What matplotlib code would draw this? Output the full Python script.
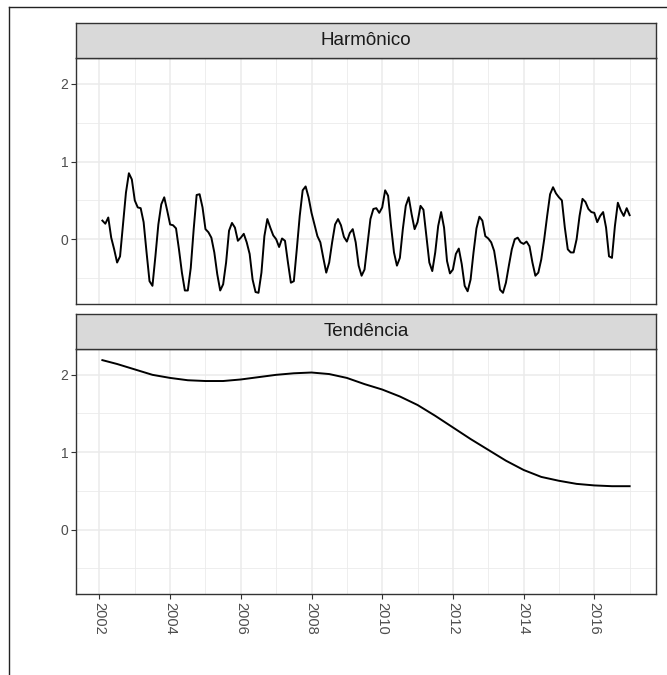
import numpy as np
import matplotlib
matplotlib.use("Agg")
import matplotlib.pyplot as plt
from matplotlib.lines import Line2D

plt.rcParams['font.family'] = ['Liberation Sans', 'DejaVu Sans']

# monthly series, Feb 2002 .. Jan 2017
harm_start = 2002 + 1 / 12
harmonico = [
    0.24, 0.20, 0.28, 0.02, -0.13, -0.30, -0.22, 0.19, 0.60, 0.85, 0.77,
    0.50, 0.41, 0.40, 0.22, -0.17, -0.54, -0.60, -0.22, 0.19, 0.45, 0.54, 0.37,
    0.19, 0.18, 0.14, -0.13, -0.43, -0.66, -0.66, -0.37, 0.13, 0.57, 0.58, 0.41,
    0.13, 0.09, 0.02, -0.17, -0.45, -0.66, -0.58, -0.30, 0.11, 0.21, 0.15, -0.02,
    0.02, 0.07, -0.04, -0.19, -0.52, -0.68, -0.69, -0.43, 0.04, 0.26, 0.15, 0.05,
    0.00, -0.10, 0.01, -0.02, -0.30, -0.56, -0.54, -0.13, 0.30, 0.63, 0.68, 0.54,
    0.34, 0.19, 0.04, -0.04, -0.24, -0.43, -0.30, -0.04, 0.19, 0.26, 0.18, 0.03,
    -0.03, 0.08, 0.13, -0.04, -0.34, -0.47, -0.39, -0.06, 0.26, 0.39, 0.40, 0.34,
    0.41, 0.63, 0.56, 0.17, -0.17, -0.34, -0.24, 0.13, 0.43, 0.54, 0.32, 0.13,
    0.22, 0.43, 0.38, 0.04, -0.30, -0.41, -0.17, 0.17, 0.35, 0.15, -0.28, -0.44,
    -0.39, -0.19, -0.12, -0.32, -0.60, -0.67, -0.52, -0.17, 0.14, 0.29, 0.24, 0.04,
    0.01, -0.04, -0.15, -0.39, -0.65, -0.69, -0.56, -0.34, -0.13, 0.00, 0.02, -0.04,
    -0.06, -0.03, -0.09, -0.30, -0.47, -0.43, -0.26, 0.00, 0.30, 0.58, 0.67, 0.59,
    0.54, 0.50, 0.15, -0.13, -0.17, -0.17, 0.00, 0.30, 0.52, 0.48, 0.39, 0.35,
    0.34, 0.22, 0.30, 0.35, 0.15, -0.22, -0.24, 0.17, 0.47, 0.37, 0.30, 0.40,
    0.31,
]
harm_t = harm_start + np.arange(len(harmonico)) / 12

# trend read at half-year steps
tend_t = [2002.083, 2002.5, 2003.0, 2003.5, 2004.0, 2004.5, 2005.0, 2005.5,
          2006.0, 2006.5, 2007.0, 2007.5, 2008.0, 2008.5, 2009.0, 2009.5,
          2010.0, 2010.5, 2011.0, 2011.5, 2012.0, 2012.5, 2013.0, 2013.5,
          2014.0, 2014.5, 2015.0, 2015.5, 2016.0, 2016.5, 2017.0]
tendencia = [2.19, 2.14, 2.07, 2.00, 1.96, 1.93, 1.92, 1.92,
             1.94, 1.97, 2.00, 2.02, 2.03, 2.01, 1.96, 1.88,
             1.81, 1.72, 1.61, 1.47, 1.32, 1.17, 1.03, 0.89,
             0.77, 0.68, 0.63, 0.59, 0.57, 0.56, 0.56]

titulos = ["Harmônico", "Tendência"]
x_ticks = list(range(2002, 2017, 2))

fig = plt.figure(figsize=(6.67, 6.75), dpi=100)
W, H = 667, 675

def box(x0, y0, x1, y1):
    # pixel box (top-left origin) -> figure fraction
    return [x0 / W, 1 - y1 / H, (x1 - x0) / W, (y1 - y0) / H]

panels = [(23, 58, 304), (314, 349, 594)]
series = [(harm_t, harmonico), (tend_t, tendencia)]
xlim = (2001.337, 2017.746)
ylim = (-0.834, 2.334)

for k, ((s0, p0, p1), (xs, ys)) in enumerate(zip(panels, series)):
    ax = fig.add_axes(box(76, p0, 656, p1))
    ax.set_xlim(*xlim)
    ax.set_ylim(*ylim)
    ax.set_xticks(x_ticks)
    ax.set_xticks(range(2003, 2018, 2), minor=True)
    ax.set_yticks([0, 1, 2])
    ax.set_yticks([-0.5, 0.5, 1.5], minor=True)
    ax.grid(True, which='major', color='#EBEBEB', lw=1.1)
    ax.grid(True, which='minor', color='#EBEBEB', lw=0.6)
    ax.set_axisbelow(True)
    for sp in ax.spines.values():
        sp.set_color('#333333')
        sp.set_linewidth(1.0)
    ax.tick_params(which='minor', length=0)
    ax.tick_params(which='major', length=3.5, color='#333333', width=0.8,
                   labelsize=10, labelcolor='#4D4D4D', pad=2)
    ax.plot(xs, ys, color='black', lw=1.4)
    if k == 0:
        ax.tick_params(axis='x', which='major', length=0, labelbottom=False)
    else:
        ax.set_xticklabels([str(v) for v in x_ticks], rotation=270,
                           ha='center', va='top', fontsize=10.5)

    sax = fig.add_axes(box(76, s0, 656, p0))
    sax.set_facecolor('#D9D9D9')
    sax.set_xticks([])
    sax.set_yticks([])
    for sp in sax.spines.values():
        sp.set_color('#333333')
        sp.set_linewidth(1.0)
    sax.text(0.5, 0.5, titulos[k], ha='center', va='center',
             fontsize=13.5, color='#1A1A1A', transform=sax.transAxes)

# outer frame lines (left and top)
fig.add_artist(Line2D([9 / W, 9 / W], [0, 1 - 7 / H], color='#222222', lw=1.0))
fig.add_artist(Line2D([9 / W, 1], [1 - 7 / H, 1 - 7 / H], color='#222222', lw=1.0))

fig.savefig("out.png", dpi=100)
